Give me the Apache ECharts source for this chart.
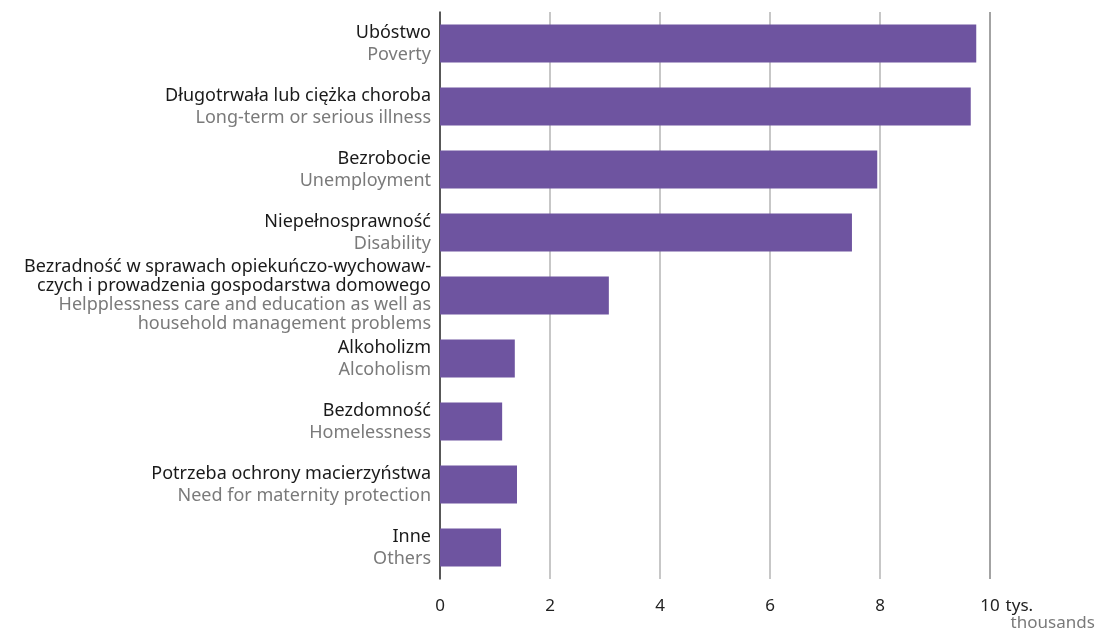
<!DOCTYPE html>
<html>
<head>
<meta charset="utf-8">
<script src="https://cdn.jsdelivr.net/npm/echarts@6/dist/echarts.min.js"></script>
<style>
html,body{margin:0;padding:0;background:#fff;}
#chart{width:1110px;height:634px;}
</style>
</head>
<body>
<div id="chart"></div>
<script>
// etykiety kategorii: polska i angielska
var labelsPl = [
  ['Ubóstwo'],
  ['Długotrwała lub ciężka choroba'],
  ['Bezrobocie'],
  ['Niepełnosprawność'],
  ['Bezradność w sprawach opiekuńczo-wychowaw-', 'czych i prowadzenia gospodarstwa domowego'],
  ['Alkoholizm'],
  ['Bezdomność'],
  ['Potrzeba ochrony macierzyństwa'],
  ['Inne']
];
var labelsEn = [
  ['Poverty'],
  ['Long-term or serious illness'],
  ['Unemployment'],
  ['Disability'],
  ['Helpplessness care and education as well as', 'household management problems'],
  ['Alcoholism'],
  ['Homelessness'],
  ['Need for maternity protection'],
  ['Others']
];
var values = [9.75, 9.65, 7.95, 7.49, 3.07, 1.36, 1.13, 1.40, 1.11]; // tys.
var xTicks = [0, 2, 4, 6, 8, 10];

var categories = labelsPl.map(function (l, i) { return String(i); });

var chart = echarts.init(document.getElementById('chart'));
chart.setOption({
  animation: false,
  textStyle: { fontFamily: 'Noto Sans' },
  grid: { left: 440, right: 120, top: 12, bottom: 55 },
  xAxis: {
    type: 'value',
    min: 0,
    max: 10,
    interval: 2,
    axisLine: { show: false },
    axisTick: { show: false },
    axisLabel: {
      color: '#222', fontSize: 17, margin: 19,
      formatter: function (v) { return xTicks.indexOf(v) >= 0 ? String(v) : ''; }
    },
    splitLine: {
      show: true,
      lineStyle: {
        width: 1.5,
        color: ['#b4b4b4', '#b4b4b4', '#b4b4b4', '#b4b4b4', '#b4b4b4', '#858585']
      }
    },
    name: '{a|tys.}\n{b|thousands}',
    nameLocation: 'end',
    nameGap: 15,
    nameTextStyle: {
      align: 'left',
      verticalAlign: 'top',
      padding: [19, 0, 0, 0],
      rich: {
        a: { color: '#222', fontSize: 17, lineHeight: 17, fontFamily: 'Noto Sans' },
        b: { color: '#7a7a7a', fontSize: 17, lineHeight: 17, fontFamily: 'Noto Sans', padding: [0, 0, 0, 5] }
      }
    }
  },
  yAxis: {
    type: 'category',
    inverse: true,
    data: categories,
    axisLine: { show: true, lineStyle: { color: '#333', width: 1.5 } },
    axisTick: { show: false },
    axisLabel: {
      margin: 9,
      align: 'right',
      formatter: function (v) {
        var i = +v;
        var tight = labelsPl[i].length + labelsEn[i].length > 2;
        var p = tight ? 'plt' : 'pl';
        var e = tight ? 'ent' : 'en';
        var out = [];
        labelsPl[i].forEach(function (t) { out.push('{' + p + '|' + t + '}'); });
        labelsEn[i].forEach(function (t) { out.push('{' + e + '|' + t + '}'); });
        return out.join('\n');
      },
      rich: {
        pl: { color: '#1a1a1a', fontSize: 18, lineHeight: 22, fontFamily: 'Noto Sans' },
        en: { color: '#7a7a7a', fontSize: 18, lineHeight: 22, fontFamily: 'Noto Sans' },
        plt: { color: '#1a1a1a', fontSize: 18, lineHeight: 19, fontFamily: 'Noto Sans' },
        ent: { color: '#7a7a7a', fontSize: 18, lineHeight: 19, fontFamily: 'Noto Sans' }
      }
    }
  },
  series: [{
    type: 'bar',
    data: values,
    barCategoryGap: '40%',
    itemStyle: { color: '#6e54a0' }
  }]
});
</script>
</body>
</html>
